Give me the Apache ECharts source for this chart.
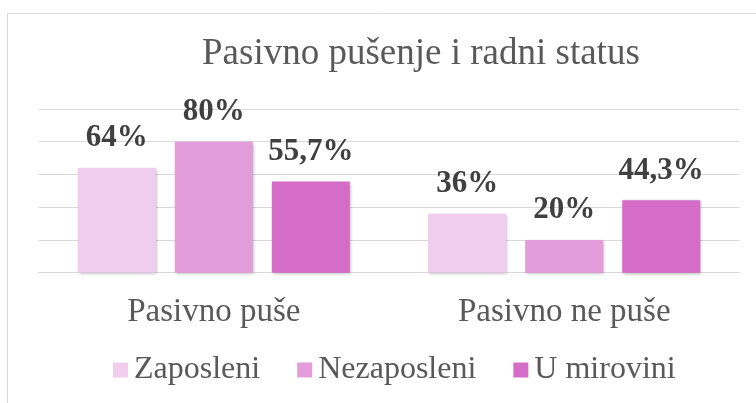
<!DOCTYPE html>
<html>
<head>
<meta charset="utf-8">
<script src="https://cdn.jsdelivr.net/npm/echarts@6/dist/echarts.min.js"></script>
<style>
html, body { margin: 0; padding: 0; background: #fff; }
#chart { width: 756px; height: 403px; }
</style>
</head>
<body>
<div id="chart"></div>
<script>
// podaci
var categories = ['Pasivno puše', 'Pasivno ne puše']
var seriesNames = ['Zaposleni', 'Nezaposleni', 'U mirovini']
var zaposleni = [64, 36]
var nezaposleni = [80, 20]
var uMirovini = [55.7, 44.3]
var yTicks = [0, 20, 40, 60, 80, 100]

var colors = ['#F0CDEE', '#E39DDB', '#D56CC8']
var serif = "'Liberation Serif', 'Times New Roman', serif"

var chart = echarts.init(document.getElementById('chart'))

function makeSeries(name, data, color) {
  return {
    name: name,
    type: 'bar',
    data: data,
    barWidth: 78,
    barGap: '24.4%',
    itemStyle: {
      color: color,
      shadowBlur: 3,
      shadowColor: 'rgba(0,0,0,0.3)',
      shadowOffsetX: 1,
      shadowOffsetY: 1
    },
    label: {
      show: true,
      position: 'top',
      distance: 14,
      fontFamily: serif,
      fontWeight: 'bold',
      fontSize: 31,
      color: '#404040',
      formatter: function (p) {
        return String(p.value).replace('.', ',') + '%'
      }
    }
  }
}

chart.setOption({
  animation: false,
  backgroundColor: '#fff',
  // okvir grafikona
  graphic: [{
    type: 'rect',
    shape: { x: 7.5, y: 13.5, width: 900, height: 500 },
    style: { fill: 'none', stroke: '#d9d9d9', lineWidth: 1 }
  }],
  title: {
    text: 'Pasivno pušenje i radni status',
    left: 202,
    top: 36,
    padding: 0,
    textStyle: {
      fontFamily: serif,
      fontWeight: 'normal',
      fontSize: 37,
      color: '#595959'
    }
  },
  legend: {
    data: seriesNames,
    left: 113,
    top: 354,
    padding: 0,
    itemWidth: 15,
    itemHeight: 15,
    itemGap: 37,
    icon: 'rect',
    textStyle: {
      fontFamily: serif,
      fontSize: 32,
      color: '#595959',
      padding: [0, 0, 0, 1]
    }
  },
  grid: {
    left: 38.6,
    right: 16.6,
    top: 109,
    bottom: 130.3
  },
  xAxis: {
    type: 'category',
    data: categories,
    axisTick: { show: false },
    axisLine: { lineStyle: { color: '#d9d9d9', width: 1 } },
    axisLabel: {
      margin: 23,
      fontFamily: serif,
      fontSize: 33,
      color: '#595959'
    }
  },
  yAxis: {
    type: 'value',
    min: yTicks[0],
    max: yTicks[yTicks.length - 1],
    interval: yTicks[1] - yTicks[0],
    axisLabel: { show: false },
    axisLine: { show: false },
    axisTick: { show: false },
    splitLine: { lineStyle: { color: '#d9d9d9', width: 1 } }
  },
  series: [
    makeSeries(seriesNames[0], zaposleni, colors[0]),
    makeSeries(seriesNames[1], nezaposleni, colors[1]),
    makeSeries(seriesNames[2], uMirovini, colors[2])
  ]
})
</script>
</body>
</html>
